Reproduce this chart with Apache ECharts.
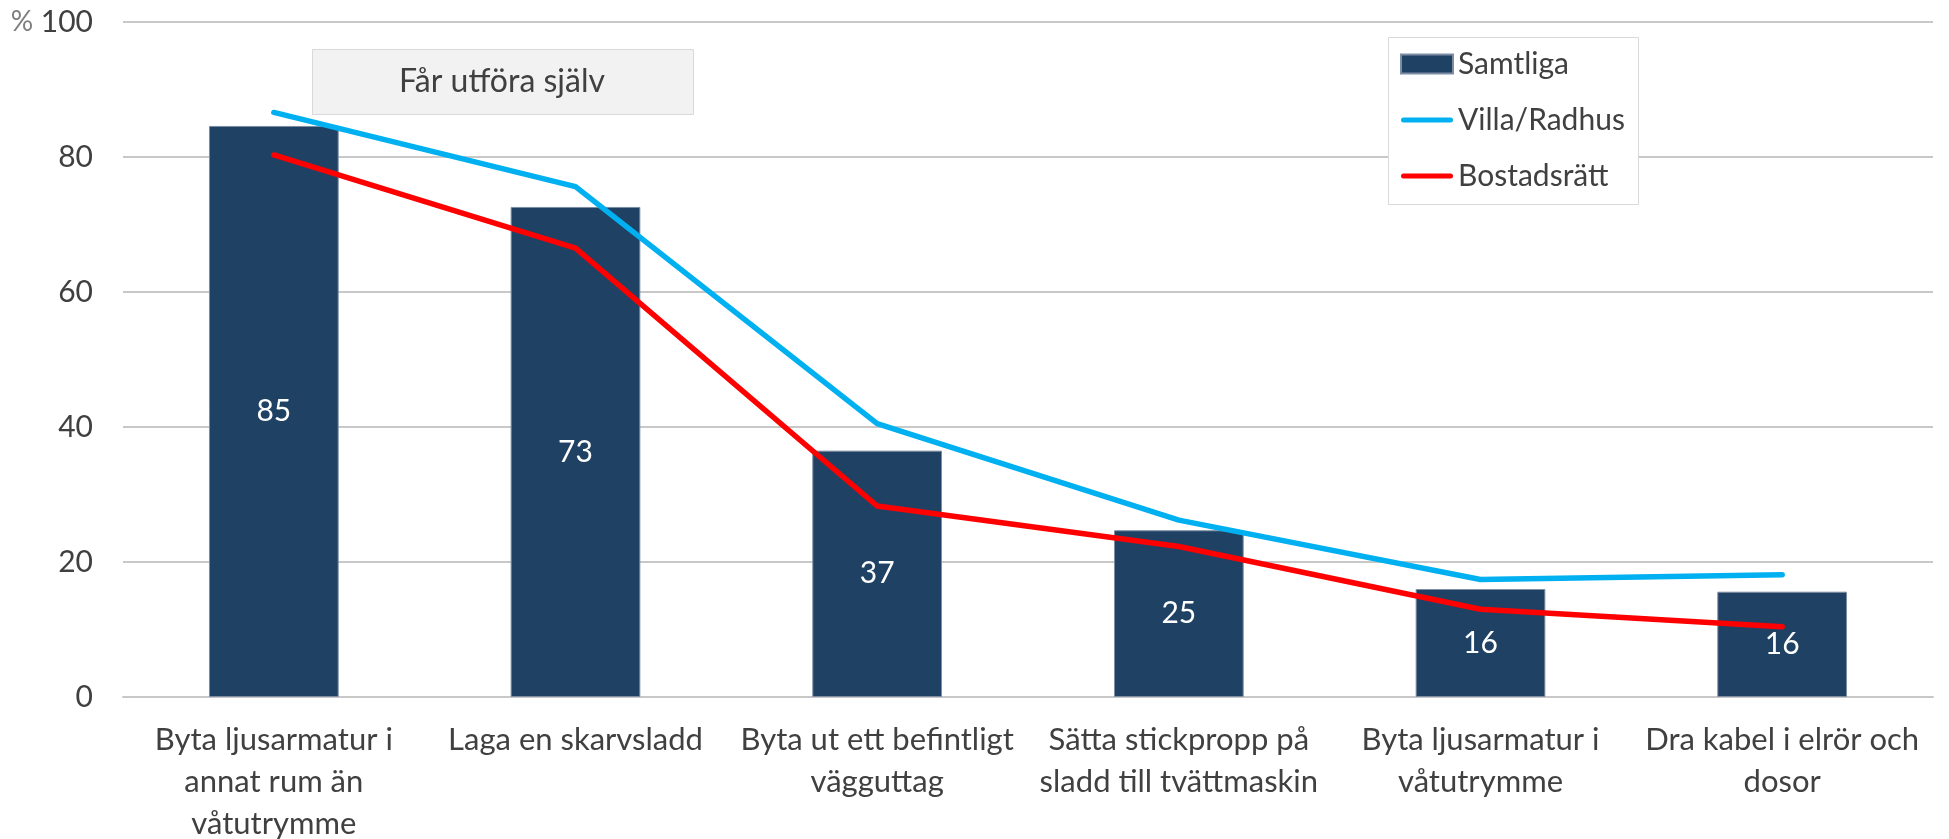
<!DOCTYPE html>
<html>
<head>
<meta charset="utf-8">
<script src="https://cdn.jsdelivr.net/npm/echarts@6/dist/echarts.min.js"></script>
<style>html,body{margin:0;padding:0;background:#fff}#c{width:1949px;height:839px}</style>
</head>
<body>
<div id="c"></div>
<script>
const categories = [
  'Byta ljusarmatur i\nannat rum än\nvåtutrymme',
  'Laga en skarvsladd',
  'Byta ut ett befintligt\nvägguttag',
  'Sätta stickpropp på\nsladd till tvättmaskin',
  'Byta ljusarmatur i\nvåtutrymme',
  'Dra kabel i elrör och\ndosor'
];
const samtliga = [84.6, 72.6, 36.5, 24.7, 16.0, 15.6];
const villaRadhus = [86.6, 75.6, 40.5, 26.2, 17.4, 18.1];
const bostadsratt = [80.3, 66.5, 28.3, 22.3, 13.0, 10.4];
const seriesNames = ['Samtliga', 'Villa/Radhus', 'Bostadsrätt'];
const boxTitle = 'Får utföra själv';
const unitLabel = '%';

const FONT = 'Lato';
const TXT = '#404040';
const LINE_ICON = 'path://M2.5,0 L49.5,0 A2.5,2.5 0 0 1 49.5,5 L2.5,5 A2.5,2.5 0 0 1 2.5,0 Z';

const chart = echarts.init(document.getElementById('c'), null, {renderer: 'canvas'});
chart.setOption({
  backgroundColor: '#ffffff',
  animation: false,
  textStyle: {fontFamily: FONT},
  grid: {left: 123, right: 16, top: 22, bottom: 142, containLabel: false, outerBoundsMode: 'none'},
  graphic: [
    {
      type: 'rect', left: 312, top: 49, z: 10,
      shape: {width: 381, height: 65},
      style: {fill: '#f2f2f2', stroke: '#d9d9d9', lineWidth: 1}
    },
    {
      type: 'text', z: 11,
      x: 502, y: 82,
      style: {text: boxTitle, fill: TXT, font: '32px ' + FONT, textAlign: 'center', textVerticalAlign: 'middle'}
    },
    {
      type: 'rect', left: 1388, top: 37, z: 10,
      shape: {width: 250, height: 167},
      style: {fill: '#ffffff', stroke: '#d9d9d9', lineWidth: 1}
    }
  ],
  legend: {
    data: [
      {name: seriesNames[0], icon: 'rect'},
      {name: seriesNames[1], icon: LINE_ICON},
      {name: seriesNames[2], icon: LINE_ICON}
    ],
    orient: 'vertical',
    left: 1388, top: 37,
    padding: [12, 10, 10, 12],
    itemWidth: 52, itemHeight: 19,
    itemGap: 26,
    itemTextGap: 6,
    z: 12,
    textStyle: {color: TXT, fontSize: 30, fontFamily: FONT, lineHeight: 30}
  },
  xAxis: {
    type: 'category',
    data: categories,
    axisLine: {show: true, lineStyle: {color: '#c8c8c8', width: 2}},
    axisTick: {show: false},
    axisLabel: {color: TXT, fontSize: 31, fontFamily: FONT, lineHeight: 42, margin: 22, interval: 0}
  },
  yAxis: {
    type: 'value', min: 0, max: 100, interval: 20,
    axisLine: {show: false}, axisTick: {show: false},
    splitLine: {lineStyle: {color: '#c8c8c8', width: 2}},
    axisLabel: {
      color: TXT, fontSize: 30, fontFamily: FONT, margin: 30,
      formatter: function (v) { return v === 100 ? '{p|' + unitLabel + '} ' + v : String(v); },
      rich: {p: {color: '#7f7f7f', fontSize: 28, fontFamily: FONT}}
    }
  },
  series: [
    {
      name: seriesNames[0], type: 'bar', data: samtliga,
      barWidth: '43%',
      itemStyle: {color: '#1F4164', borderColor: '#7d8ea3', borderWidth: 1},
      label: {
        show: true, position: 'inside', color: '#ffffff', fontSize: 30, fontFamily: FONT,
        formatter: function (p) { return Math.round(p.value); }
      },
      z: 2
    },
    {
      name: seriesNames[1], type: 'line', data: villaRadhus,
      symbol: 'none', lineStyle: {color: '#00B0F0', width: 5.5, cap: 'round'},
      itemStyle: {color: '#00B0F0'}, z: 3
    },
    {
      name: seriesNames[2], type: 'line', data: bostadsratt,
      symbol: 'none', lineStyle: {color: '#FF0000', width: 5.5, cap: 'round'},
      itemStyle: {color: '#FF0000'}, z: 3
    }
  ]
});
</script>
</body>
</html>
